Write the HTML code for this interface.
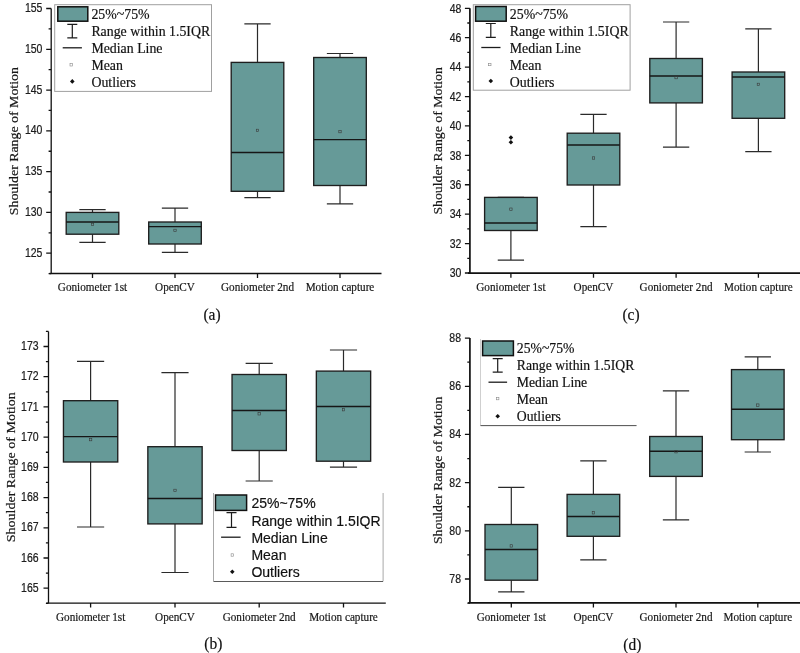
<!DOCTYPE html>
<html><head><meta charset="utf-8"><style>
html,body{margin:0;padding:0;background:#fff;}
svg{display:block;filter:blur(0.3px);}
text{stroke:#111;stroke-width:0.18px;}
</style></head><body>
<svg width="800" height="653" viewBox="0 0 800 653">
<rect width="800" height="653" fill="#fff"/>
<path d="M51.2 8.5V273.5M49.5 273.5H381.5" stroke="#111" stroke-width="1.3" fill="none"/>
<path d="M48.6 273.59H51.2M46.2 253.2H51.2M48.6 232.81H51.2M46.2 212.42H51.2M48.6 192.02H51.2M46.2 171.63H51.2M48.6 151.24H51.2M46.2 130.85H51.2M48.6 110.46H51.2M46.2 90.07H51.2M48.6 69.67H51.2M46.2 49.28H51.2M48.6 28.89H51.2M46.2 8.5H51.2" stroke="#111" stroke-width="1.3" fill="none"/>
<text transform="translate(42.4 256.7) scale(1 1.13)" text-anchor="end" font-family='"Liberation Sans", sans-serif' font-size="10.5" fill="#222">125</text>
<text transform="translate(42.4 215.92) scale(1 1.13)" text-anchor="end" font-family='"Liberation Sans", sans-serif' font-size="10.5" fill="#222">130</text>
<text transform="translate(42.4 175.13) scale(1 1.13)" text-anchor="end" font-family='"Liberation Sans", sans-serif' font-size="10.5" fill="#222">135</text>
<text transform="translate(42.4 134.35) scale(1 1.13)" text-anchor="end" font-family='"Liberation Sans", sans-serif' font-size="10.5" fill="#222">140</text>
<text transform="translate(42.4 93.57) scale(1 1.13)" text-anchor="end" font-family='"Liberation Sans", sans-serif' font-size="10.5" fill="#222">145</text>
<text transform="translate(42.4 52.78) scale(1 1.13)" text-anchor="end" font-family='"Liberation Sans", sans-serif' font-size="10.5" fill="#222">150</text>
<text transform="translate(42.4 12) scale(1 1.13)" text-anchor="end" font-family='"Liberation Sans", sans-serif' font-size="10.5" fill="#222">155</text>
<path d="M92.5 273.5v4.5M175 273.5v4.5M257.5 273.5v4.5M340 273.5v4.5" stroke="#111" stroke-width="1.3" fill="none"/>
<text transform="translate(92.5 290.5) scale(1 1.13)" text-anchor="middle" font-family='"Liberation Serif", serif' font-size="11.2" fill="#1a1a1a">Goniometer 1st</text>
<text transform="translate(175 290.5) scale(1 1.13)" text-anchor="middle" font-family='"Liberation Serif", serif' font-size="11.2" fill="#1a1a1a">OpenCV</text>
<text transform="translate(257.5 290.5) scale(1 1.13)" text-anchor="middle" font-family='"Liberation Serif", serif' font-size="11.2" fill="#1a1a1a">Goniometer 2nd</text>
<text transform="translate(340 290.5) scale(1 1.13)" text-anchor="middle" font-family='"Liberation Serif", serif' font-size="11.2" fill="#1a1a1a">Motion capture</text>
<text transform="translate(17.6 141.2) rotate(-90) scale(1.13 1)" text-anchor="middle" font-family='"Liberation Serif", serif' font-size="12.26" fill="#1a1a1a">Shoulder Range of Motion</text>
<text transform="translate(212 320) scale(1 1.04)" text-anchor="middle" font-family='"Liberation Serif", serif' font-size="15.5" fill="#111">(a)</text>
<path d="M92.5 209.6V212.4M92.5 234.2V242.4M79.35 209.6H105.65M79.35 242.4H105.65" stroke="#2a2a2a" stroke-width="1.2" fill="none"/>
<rect x="66.2" y="212.4" width="52.6" height="21.8" fill="#669a98" stroke="#1e1e1e" stroke-width="1.35"/>
<path d="M66.2 222H118.8" stroke="#161616" stroke-width="1.45"/>
<rect x="91.3" y="223.2" width="2.4" height="2.4" fill="none" stroke="#3a3a3a" stroke-width="0.6"/>
<path d="M175 208.2V222M175 244V252.4M161.85 208.2H188.15M161.85 252.4H188.15" stroke="#2a2a2a" stroke-width="1.2" fill="none"/>
<rect x="148.7" y="222" width="52.6" height="22" fill="#669a98" stroke="#1e1e1e" stroke-width="1.35"/>
<path d="M148.7 226.6H201.3" stroke="#161616" stroke-width="1.45"/>
<rect x="173.8" y="229.2" width="2.4" height="2.4" fill="none" stroke="#3a3a3a" stroke-width="0.6"/>
<path d="M257.5 23.8V62.4M257.5 191.3V197.7M244.35 23.8H270.65M244.35 197.7H270.65" stroke="#2a2a2a" stroke-width="1.2" fill="none"/>
<rect x="231.2" y="62.4" width="52.6" height="128.9" fill="#669a98" stroke="#1e1e1e" stroke-width="1.35"/>
<path d="M231.2 152.4H283.8" stroke="#161616" stroke-width="1.45"/>
<rect x="256.3" y="129.2" width="2.4" height="2.4" fill="none" stroke="#3a3a3a" stroke-width="0.6"/>
<path d="M340 53.5V57.5M340 185.5V203.9M326.85 53.5H353.15M326.85 203.9H353.15" stroke="#2a2a2a" stroke-width="1.2" fill="none"/>
<rect x="313.7" y="57.5" width="52.6" height="128" fill="#669a98" stroke="#1e1e1e" stroke-width="1.35"/>
<path d="M313.7 139.6H366.3" stroke="#161616" stroke-width="1.45"/>
<rect x="338.8" y="130.4" width="2.4" height="2.4" fill="none" stroke="#3a3a3a" stroke-width="0.6"/>
<rect x="54.7" y="4.7" width="156.8" height="86.7" fill="#fff" stroke="#a0a0a0" stroke-width="1"/>
<rect x="57.8" y="6.8" width="30" height="14.4" fill="#669a98" stroke="#111" stroke-width="1.5"/>
<path d="M72.3 24.4V37.8M67.3 24.4h10M67.3 37.8h10" stroke="#1c1c1c" stroke-width="1.2" fill="none"/>
<path d="M62.7 47.8H81.9" stroke="#1c1c1c" stroke-width="1.3"/>
<rect x="70" y="63.6" width="2.4" height="2.4" fill="none" stroke="#888" stroke-width="0.6"/>
<path d="M72.3 79.1l2.3 2.3l-2.3 2.3l-2.3-2.3z" fill="#111"/>
<text x="91.4" y="19" font-family='"Liberation Serif", serif' font-size="13.85" fill="#111">25%~75%</text>
<text x="91.4" y="36" font-family='"Liberation Serif", serif' font-size="13.85" fill="#111">Range within 1.5IQR</text>
<text x="91.4" y="53" font-family='"Liberation Serif", serif' font-size="13.85" fill="#111">Median Line</text>
<text x="91.4" y="70.3" font-family='"Liberation Serif", serif' font-size="13.85" fill="#111">Mean</text>
<text x="91.4" y="87" font-family='"Liberation Serif", serif' font-size="13.85" fill="#111">Outliers</text>
<path d="M469.9 8.3V273.2M468 273.2H800" stroke="#111" stroke-width="1.7" fill="none"/>
<path d="M464.9 273H469.9M467.3 258.29H469.9M464.9 243.59H469.9M467.3 228.88H469.9M464.9 214.18H469.9M467.3 199.47H469.9M464.9 184.77H469.9M467.3 170.06H469.9M464.9 155.36H469.9M467.3 140.65H469.9M464.9 125.94H469.9M467.3 111.24H469.9M464.9 96.53H469.9M467.3 81.83H469.9M464.9 67.12H469.9M467.3 52.42H469.9M464.9 37.71H469.9M467.3 23.01H469.9M464.9 8.3H469.9" stroke="#111" stroke-width="1.3" fill="none"/>
<text transform="translate(461.4 277.3) scale(1 1.13)" text-anchor="end" font-family='"Liberation Sans", sans-serif' font-size="10.5" fill="#222">30</text>
<text transform="translate(461.4 247.89) scale(1 1.13)" text-anchor="end" font-family='"Liberation Sans", sans-serif' font-size="10.5" fill="#222">32</text>
<text transform="translate(461.4 218.48) scale(1 1.13)" text-anchor="end" font-family='"Liberation Sans", sans-serif' font-size="10.5" fill="#222">34</text>
<text transform="translate(461.4 189.07) scale(1 1.13)" text-anchor="end" font-family='"Liberation Sans", sans-serif' font-size="10.5" fill="#222">36</text>
<text transform="translate(461.4 159.66) scale(1 1.13)" text-anchor="end" font-family='"Liberation Sans", sans-serif' font-size="10.5" fill="#222">38</text>
<text transform="translate(461.4 130.24) scale(1 1.13)" text-anchor="end" font-family='"Liberation Sans", sans-serif' font-size="10.5" fill="#222">40</text>
<text transform="translate(461.4 100.83) scale(1 1.13)" text-anchor="end" font-family='"Liberation Sans", sans-serif' font-size="10.5" fill="#222">42</text>
<text transform="translate(461.4 71.42) scale(1 1.13)" text-anchor="end" font-family='"Liberation Sans", sans-serif' font-size="10.5" fill="#222">44</text>
<text transform="translate(461.4 42.01) scale(1 1.13)" text-anchor="end" font-family='"Liberation Sans", sans-serif' font-size="10.5" fill="#222">46</text>
<text transform="translate(461.4 12.6) scale(1 1.13)" text-anchor="end" font-family='"Liberation Sans", sans-serif' font-size="10.5" fill="#222">48</text>
<path d="M510.9 273.2v4.5M593.5 273.2v4.5M676.1 273.2v4.5M758.4 273.2v4.5" stroke="#111" stroke-width="1.3" fill="none"/>
<text transform="translate(510.9 291) scale(1 1.13)" text-anchor="middle" font-family='"Liberation Serif", serif' font-size="11.2" fill="#1a1a1a">Goniometer 1st</text>
<text transform="translate(593.5 291) scale(1 1.13)" text-anchor="middle" font-family='"Liberation Serif", serif' font-size="11.2" fill="#1a1a1a">OpenCV</text>
<text transform="translate(676.1 291) scale(1 1.13)" text-anchor="middle" font-family='"Liberation Serif", serif' font-size="11.2" fill="#1a1a1a">Goniometer 2nd</text>
<text transform="translate(758.4 291) scale(1 1.13)" text-anchor="middle" font-family='"Liberation Serif", serif' font-size="11.2" fill="#1a1a1a">Motion capture</text>
<text transform="translate(442.4 140.9) rotate(-90) scale(1.13 1)" text-anchor="middle" font-family='"Liberation Serif", serif' font-size="12.21" fill="#1a1a1a">Shoulder Range of Motion</text>
<text transform="translate(631 320.2) scale(1 1.04)" text-anchor="middle" font-family='"Liberation Serif", serif' font-size="15.5" fill="#111">(c)</text>
<path d="M510.9 197.4V197.4M510.9 230.5V260.2M497.75 197.4H524.05M497.75 260.2H524.05" stroke="#2a2a2a" stroke-width="1.2" fill="none"/>
<rect x="484.6" y="197.4" width="52.6" height="33.1" fill="#669a98" stroke="#1e1e1e" stroke-width="1.35"/>
<path d="M484.6 223H537.2" stroke="#161616" stroke-width="1.45"/>
<rect x="509.7" y="208" width="2.4" height="2.4" fill="none" stroke="#3a3a3a" stroke-width="0.6"/>
<path d="M510.9 135.3l2.3 2.3l-2.3 2.3l-2.3-2.3z" fill="#111"/>
<path d="M510.9 139.9l2.3 2.3l-2.3 2.3l-2.3-2.3z" fill="#111"/>
<path d="M593.5 114.4V133.2M593.5 185V226.6M580.35 114.4H606.65M580.35 226.6H606.65" stroke="#2a2a2a" stroke-width="1.2" fill="none"/>
<rect x="567.2" y="133.2" width="52.6" height="51.8" fill="#669a98" stroke="#1e1e1e" stroke-width="1.35"/>
<path d="M567.2 145H619.8" stroke="#161616" stroke-width="1.45"/>
<rect x="592.3" y="156.8" width="2.4" height="2.4" fill="none" stroke="#3a3a3a" stroke-width="0.6"/>
<path d="M676.1 22V58.5M676.1 102.9V147.2M662.95 22H689.25M662.95 147.2H689.25" stroke="#2a2a2a" stroke-width="1.2" fill="none"/>
<rect x="649.8" y="58.5" width="52.6" height="44.4" fill="#669a98" stroke="#1e1e1e" stroke-width="1.35"/>
<path d="M649.8 76H702.4" stroke="#161616" stroke-width="1.45"/>
<rect x="674.9" y="76.4" width="2.4" height="2.4" fill="none" stroke="#3a3a3a" stroke-width="0.6"/>
<path d="M758.4 28.8V72M758.4 118.3V151.7M745.25 28.8H771.55M745.25 151.7H771.55" stroke="#2a2a2a" stroke-width="1.2" fill="none"/>
<rect x="732.1" y="72" width="52.6" height="46.3" fill="#669a98" stroke="#1e1e1e" stroke-width="1.35"/>
<path d="M732.1 77H784.7" stroke="#161616" stroke-width="1.45"/>
<rect x="757.2" y="83.2" width="2.4" height="2.4" fill="none" stroke="#3a3a3a" stroke-width="0.6"/>
<rect x="473.3" y="4.7" width="156.8" height="85.5" fill="#fff" stroke="#a0a0a0" stroke-width="1"/>
<rect x="475.6" y="6.5" width="30.6" height="14.7" fill="#669a98" stroke="#111" stroke-width="1.5"/>
<path d="M490.8 23.5V37.4M485.8 23.5h10M485.8 37.4h10" stroke="#1c1c1c" stroke-width="1.2" fill="none"/>
<path d="M481.3 47.5H500.5" stroke="#1c1c1c" stroke-width="1.3"/>
<rect x="488.6" y="63.3" width="2.4" height="2.4" fill="none" stroke="#888" stroke-width="0.6"/>
<path d="M490.8 78.7l2.3 2.3l-2.3 2.3l-2.3-2.3z" fill="#111"/>
<text x="509.8" y="19" font-family='"Liberation Serif", serif' font-size="13.85" fill="#111">25%~75%</text>
<text x="509.8" y="36" font-family='"Liberation Serif", serif' font-size="13.85" fill="#111">Range within 1.5IQR</text>
<text x="509.8" y="53" font-family='"Liberation Serif", serif' font-size="13.85" fill="#111">Median Line</text>
<text x="509.8" y="70.3" font-family='"Liberation Serif", serif' font-size="13.85" fill="#111">Mean</text>
<text x="509.8" y="87" font-family='"Liberation Serif", serif' font-size="13.85" fill="#111">Outliers</text>
<path d="M48.5 331.4V603.1M46.25 603.1H385.8" stroke="#111" stroke-width="1.3" fill="none"/>
<path d="M45.9 603.31H48.5M43.5 588.2H48.5M45.9 573.09H48.5M43.5 557.99H48.5M45.9 542.88H48.5M43.5 527.78H48.5M45.9 512.67H48.5M43.5 497.56H48.5M45.9 482.46H48.5M43.5 467.35H48.5M45.9 452.24H48.5M43.5 437.14H48.5M45.9 422.03H48.5M43.5 406.93H48.5M45.9 391.82H48.5M43.5 376.71H48.5M45.9 361.61H48.5M43.5 346.5H48.5M45.9 331.39H48.5" stroke="#111" stroke-width="1.3" fill="none"/>
<text transform="translate(38.6 591.8) scale(1 1.13)" text-anchor="end" font-family='"Liberation Sans", sans-serif' font-size="10.5" fill="#222">165</text>
<text transform="translate(38.6 561.59) scale(1 1.13)" text-anchor="end" font-family='"Liberation Sans", sans-serif' font-size="10.5" fill="#222">166</text>
<text transform="translate(38.6 531.38) scale(1 1.13)" text-anchor="end" font-family='"Liberation Sans", sans-serif' font-size="10.5" fill="#222">167</text>
<text transform="translate(38.6 501.16) scale(1 1.13)" text-anchor="end" font-family='"Liberation Sans", sans-serif' font-size="10.5" fill="#222">168</text>
<text transform="translate(38.6 470.95) scale(1 1.13)" text-anchor="end" font-family='"Liberation Sans", sans-serif' font-size="10.5" fill="#222">169</text>
<text transform="translate(38.6 440.74) scale(1 1.13)" text-anchor="end" font-family='"Liberation Sans", sans-serif' font-size="10.5" fill="#222">170</text>
<text transform="translate(38.6 410.53) scale(1 1.13)" text-anchor="end" font-family='"Liberation Sans", sans-serif' font-size="10.5" fill="#222">171</text>
<text transform="translate(38.6 380.31) scale(1 1.13)" text-anchor="end" font-family='"Liberation Sans", sans-serif' font-size="10.5" fill="#222">172</text>
<text transform="translate(38.6 350.1) scale(1 1.13)" text-anchor="end" font-family='"Liberation Sans", sans-serif' font-size="10.5" fill="#222">173</text>
<path d="M90.6 603.1v4.5M175 603.1v4.5M259.2 603.1v4.5M343.5 603.1v4.5" stroke="#111" stroke-width="1.3" fill="none"/>
<text transform="translate(90.6 621) scale(1 1.13)" text-anchor="middle" font-family='"Liberation Serif", serif' font-size="11.2" fill="#1a1a1a">Goniometer 1st</text>
<text transform="translate(175 621) scale(1 1.13)" text-anchor="middle" font-family='"Liberation Serif", serif' font-size="11.2" fill="#1a1a1a">OpenCV</text>
<text transform="translate(259.2 621) scale(1 1.13)" text-anchor="middle" font-family='"Liberation Serif", serif' font-size="11.2" fill="#1a1a1a">Goniometer 2nd</text>
<text transform="translate(343.5 621) scale(1 1.13)" text-anchor="middle" font-family='"Liberation Serif", serif' font-size="11.2" fill="#1a1a1a">Motion capture</text>
<text transform="translate(14.7 467.3) rotate(-90) scale(1.04 1)" text-anchor="middle" font-family='"Liberation Serif", serif' font-size="13.51" fill="#1a1a1a">Shoulder Range of Motion</text>
<text transform="translate(213.3 649) scale(1 1.04)" text-anchor="middle" font-family='"Liberation Serif", serif' font-size="15.5" fill="#111">(b)</text>
<path d="M90.6 361.3V400.7M90.6 462V527M77.02 361.3H104.17M77.02 527H104.17" stroke="#2a2a2a" stroke-width="1.2" fill="none"/>
<rect x="63.45" y="400.7" width="54.3" height="61.3" fill="#669a98" stroke="#1e1e1e" stroke-width="1.35"/>
<path d="M63.45 436.6H117.75" stroke="#161616" stroke-width="1.45"/>
<rect x="89.4" y="438.4" width="2.4" height="2.4" fill="none" stroke="#3a3a3a" stroke-width="0.6"/>
<path d="M175 372.6V446.7M175 523.9V572.5M161.43 372.6H188.57M161.43 572.5H188.57" stroke="#2a2a2a" stroke-width="1.2" fill="none"/>
<rect x="147.85" y="446.7" width="54.3" height="77.2" fill="#669a98" stroke="#1e1e1e" stroke-width="1.35"/>
<path d="M147.85 498.4H202.15" stroke="#161616" stroke-width="1.45"/>
<rect x="173.8" y="489.2" width="2.4" height="2.4" fill="none" stroke="#3a3a3a" stroke-width="0.6"/>
<path d="M259.2 363.3V374.5M259.2 450.5V481M245.62 363.3H272.77M245.62 481H272.77" stroke="#2a2a2a" stroke-width="1.2" fill="none"/>
<rect x="232.05" y="374.5" width="54.3" height="76" fill="#669a98" stroke="#1e1e1e" stroke-width="1.35"/>
<path d="M232.05 410.4H286.35" stroke="#161616" stroke-width="1.45"/>
<rect x="258" y="412.6" width="2.4" height="2.4" fill="none" stroke="#3a3a3a" stroke-width="0.6"/>
<path d="M343.5 350V371.1M343.5 461.2V467.2M329.93 350H357.07M329.93 467.2H357.07" stroke="#2a2a2a" stroke-width="1.2" fill="none"/>
<rect x="316.35" y="371.1" width="54.3" height="90.1" fill="#669a98" stroke="#1e1e1e" stroke-width="1.35"/>
<path d="M316.35 406.5H370.65" stroke="#161616" stroke-width="1.45"/>
<rect x="342.3" y="408.5" width="2.4" height="2.4" fill="none" stroke="#3a3a3a" stroke-width="0.6"/>
<rect x="213.5" y="493" width="169.6" height="88.2" fill="#fff"/>
<path d="M213.5 493V581.2M383.1 581.2V493" fill="none" stroke="#a8a8a8" stroke-width="1"/>
<path d="M213.5 581.5H383.1" fill="none" stroke="#5a5a5a" stroke-width="1.1"/>
<rect x="215.5" y="495" width="31.1" height="15.4" fill="#669a98" stroke="#111" stroke-width="1.5"/>
<path d="M231.5 512.6V527.3M226.5 512.6h10M226.5 527.3h10" stroke="#1c1c1c" stroke-width="1.2" fill="none"/>
<path d="M221.1 537.2H240.6" stroke="#1c1c1c" stroke-width="1.3"/>
<rect x="231.1" y="553.8" width="2.4" height="2.4" fill="none" stroke="#888" stroke-width="0.6"/>
<path d="M232.3 569.4l2.3 2.3l-2.3 2.3l-2.3-2.3z" fill="#111"/>
<text x="251.4" y="508.1" font-family='"Liberation Sans", sans-serif' font-size="14" fill="#111">25%~75%</text>
<text x="251.4" y="525.5" font-family='"Liberation Sans", sans-serif' font-size="14" fill="#111">Range within 1.5IQR</text>
<text x="251.4" y="542.6" font-family='"Liberation Sans", sans-serif' font-size="14" fill="#111">Median Line</text>
<text x="251.4" y="559.9" font-family='"Liberation Sans", sans-serif' font-size="14" fill="#111">Mean</text>
<text x="251.4" y="577" font-family='"Liberation Sans", sans-serif' font-size="14" fill="#111">Outliers</text>
<path d="M469.9 338.1V602.9M468.2 602.9H800" stroke="#111" stroke-width="1.7" fill="none"/>
<path d="M467.3 603.09H469.9M464.9 579H469.9M467.3 554.91H469.9M464.9 530.82H469.9M467.3 506.73H469.9M464.9 482.64H469.9M467.3 458.55H469.9M464.9 434.46H469.9M467.3 410.37H469.9M464.9 386.28H469.9M467.3 362.19H469.9M464.9 338.1H469.9" stroke="#111" stroke-width="1.3" fill="none"/>
<text transform="translate(461 583) scale(1 1.13)" text-anchor="end" font-family='"Liberation Sans", sans-serif' font-size="10.5" fill="#222">78</text>
<text transform="translate(461 534.82) scale(1 1.13)" text-anchor="end" font-family='"Liberation Sans", sans-serif' font-size="10.5" fill="#222">80</text>
<text transform="translate(461 486.64) scale(1 1.13)" text-anchor="end" font-family='"Liberation Sans", sans-serif' font-size="10.5" fill="#222">82</text>
<text transform="translate(461 438.46) scale(1 1.13)" text-anchor="end" font-family='"Liberation Sans", sans-serif' font-size="10.5" fill="#222">84</text>
<text transform="translate(461 390.28) scale(1 1.13)" text-anchor="end" font-family='"Liberation Sans", sans-serif' font-size="10.5" fill="#222">86</text>
<text transform="translate(461 342.1) scale(1 1.13)" text-anchor="end" font-family='"Liberation Sans", sans-serif' font-size="10.5" fill="#222">88</text>
<path d="M511.3 602.9v4.5M593.4 602.9v4.5M676 602.9v4.5M757.8 602.9v4.5" stroke="#111" stroke-width="1.3" fill="none"/>
<text transform="translate(511.3 620.6) scale(1 1.13)" text-anchor="middle" font-family='"Liberation Serif", serif' font-size="11.2" fill="#1a1a1a">Goniometer 1st</text>
<text transform="translate(593.4 620.6) scale(1 1.13)" text-anchor="middle" font-family='"Liberation Serif", serif' font-size="11.2" fill="#1a1a1a">OpenCV</text>
<text transform="translate(676 620.6) scale(1 1.13)" text-anchor="middle" font-family='"Liberation Serif", serif' font-size="11.2" fill="#1a1a1a">Goniometer 2nd</text>
<text transform="translate(757.8 620.6) scale(1 1.13)" text-anchor="middle" font-family='"Liberation Serif", serif' font-size="11.2" fill="#1a1a1a">Motion capture</text>
<text transform="translate(442.4 470.35) rotate(-90) scale(1.13 1)" text-anchor="middle" font-family='"Liberation Serif", serif' font-size="12.21" fill="#1a1a1a">Shoulder Range of Motion</text>
<text transform="translate(632.3 649.5) scale(1 1.04)" text-anchor="middle" font-family='"Liberation Serif", serif' font-size="15.5" fill="#111">(d)</text>
<path d="M511.3 487.3V524.5M511.3 580.2V591.9M498.15 487.3H524.45M498.15 591.9H524.45" stroke="#2a2a2a" stroke-width="1.2" fill="none"/>
<rect x="485" y="524.5" width="52.6" height="55.7" fill="#669a98" stroke="#1e1e1e" stroke-width="1.35"/>
<path d="M485 549.5H537.6" stroke="#161616" stroke-width="1.45"/>
<rect x="510.1" y="544.7" width="2.4" height="2.4" fill="none" stroke="#3a3a3a" stroke-width="0.6"/>
<path d="M593.4 460.8V494.4M593.4 536.3V559.8M580.25 460.8H606.55M580.25 559.8H606.55" stroke="#2a2a2a" stroke-width="1.2" fill="none"/>
<rect x="567.1" y="494.4" width="52.6" height="41.9" fill="#669a98" stroke="#1e1e1e" stroke-width="1.35"/>
<path d="M567.1 516.5H619.7" stroke="#161616" stroke-width="1.45"/>
<rect x="592.2" y="511.6" width="2.4" height="2.4" fill="none" stroke="#3a3a3a" stroke-width="0.6"/>
<path d="M676 390.9V436.5M676 476.4V519.9M662.85 390.9H689.15M662.85 519.9H689.15" stroke="#2a2a2a" stroke-width="1.2" fill="none"/>
<rect x="649.7" y="436.5" width="52.6" height="39.9" fill="#669a98" stroke="#1e1e1e" stroke-width="1.35"/>
<path d="M649.7 451.2H702.3" stroke="#161616" stroke-width="1.45"/>
<rect x="674.8" y="450.5" width="2.4" height="2.4" fill="none" stroke="#3a3a3a" stroke-width="0.6"/>
<path d="M757.8 356.9V369.6M757.8 439.7V452M744.65 356.9H770.95M744.65 452H770.95" stroke="#2a2a2a" stroke-width="1.2" fill="none"/>
<rect x="731.5" y="369.6" width="52.6" height="70.1" fill="#669a98" stroke="#1e1e1e" stroke-width="1.35"/>
<path d="M731.5 409.3H784.1" stroke="#161616" stroke-width="1.45"/>
<rect x="756.6" y="403.9" width="2.4" height="2.4" fill="none" stroke="#3a3a3a" stroke-width="0.6"/>
<path d="M480.5 339V425.6H636.5" fill="none" stroke="#cfcfcf" stroke-width="1"/>
<path d="M480.5 425.6H636.5" fill="none" stroke="#555" stroke-width="1"/>
<rect x="482.6" y="341" width="30.8" height="14.6" fill="#669a98" stroke="#111" stroke-width="1.5"/>
<path d="M497.7 358.6V372.1M492.7 358.6h10M492.7 372.1h10" stroke="#1c1c1c" stroke-width="1.2" fill="none"/>
<path d="M488.5 382.2H507.1" stroke="#1c1c1c" stroke-width="1.3"/>
<rect x="496.5" y="397.4" width="2.4" height="2.4" fill="none" stroke="#888" stroke-width="0.6"/>
<path d="M497.7 413.9l2.3 2.3l-2.3 2.3l-2.3-2.3z" fill="#111"/>
<text x="516.8" y="352.8" font-family='"Liberation Serif", serif' font-size="13.7" fill="#111">25%~75%</text>
<text x="516.8" y="370.1" font-family='"Liberation Serif", serif' font-size="13.7" fill="#111">Range within 1.5IQR</text>
<text x="516.8" y="386.5" font-family='"Liberation Serif", serif' font-size="13.7" fill="#111">Median Line</text>
<text x="516.8" y="404.2" font-family='"Liberation Serif", serif' font-size="13.7" fill="#111">Mean</text>
<text x="516.8" y="421.1" font-family='"Liberation Serif", serif' font-size="13.7" fill="#111">Outliers</text>
</svg>
</body></html>
